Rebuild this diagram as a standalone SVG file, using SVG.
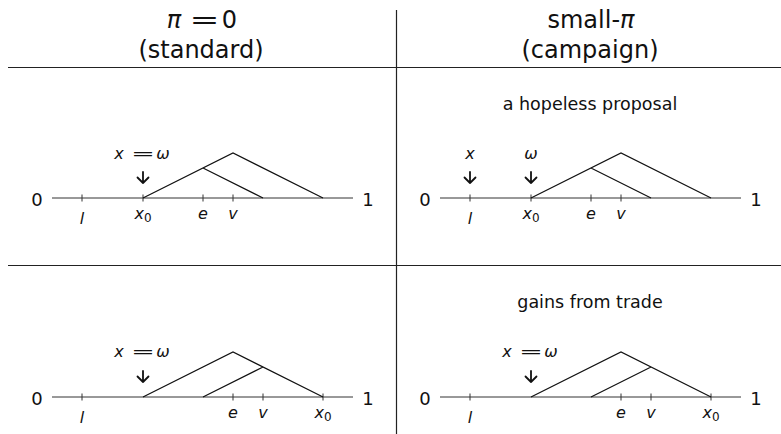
<svg xmlns="http://www.w3.org/2000/svg" width="781" height="434" viewBox="0 0 781 434">
<defs>
<style>
text{font-family:"DejaVu Sans","Liberation Sans",sans-serif;fill:#111}
.hdr{font-size:24px;text-anchor:middle}
.cap{font-size:17.5px;text-anchor:middle}
.end{font-size:18px;text-anchor:middle}
.m{font-size:16px;font-style:italic;text-anchor:middle}
.eq{font-style:normal;text-anchor:start}
.sub{font-size:12px;font-style:normal}
.rule{stroke:#222;stroke-width:1.2;fill:none}
.axis{stroke:#333;stroke-width:1;fill:none}
.tick{stroke:#333;stroke-width:1}
.tri{stroke:#111;stroke-width:1.2;fill:none;stroke-linejoin:miter}
.arr{stroke:#111;stroke-width:1.8;fill:none;stroke-linecap:round;stroke-linejoin:round}
</style>
<g id="axisTpl">
<path class="axis" d="M52,0H353"/>
<text class="end" x="37" y="8">0</text>
<text class="end" x="368" y="8">1</text>
<path class="tick" d="M82,-3.5V3.5"/>
<text class="m" x="82" y="25.5">l</text>
</g>
<g id="arrTpl"><path class="arr" d="M0,-26V-15M-5.5,-20.5L0,-15L5.5,-20.5"/></g>
<g id="eqTpl">
<text class="m" x="119" y="0">x</text>
<text class="m eq" x="131" y="0" textLength="24" lengthAdjust="spacingAndGlyphs">=</text>
<text class="m" x="163" y="0">ω</text>
</g>
</defs>
<rect width="781" height="434" fill="#fff"/>

<g id="header">
<text class="hdr" x="174" y="28" font-style="italic">π</text>
<text class="hdr eq" x="189.5" y="28" textLength="30" lengthAdjust="spacingAndGlyphs">=</text>
<text class="hdr" x="229.5" y="28">0</text>
<text class="hdr" x="201" y="58">(standard)</text>
<text class="hdr" x="591" y="28">small-<tspan font-style="italic">π</tspan></text>
<text class="hdr" x="590" y="58">(campaign)</text>
</g>

<g id="grid">
<path class="rule" d="M8,67.5H781M8,265.5H781M396.5,10V434"/>
</g>

<g id="panel-standard-hopeless">
<g transform="translate(0,198)">
<use href="#axisTpl"/>
<path class="tick" d="M143,-3.5V3.5M203,-3.5V3.5M233,-3.5V3.5"/>
<text class="m" x="143" y="21">x<tspan class="sub" dy="3">0</tspan></text>
<text class="m" x="203" y="21">e</text>
<text class="m" x="233" y="21">v</text>
<g transform="translate(143,0)"><use href="#arrTpl"/></g>
<g transform="translate(0,-39)"><use href="#eqTpl"/></g>
</g>
</g>

<g id="panel-campaign-hopeless">
<text class="cap" x="590" y="110">a hopeless proposal</text>
<g transform="translate(388,198)">
<use href="#axisTpl"/>
<path class="tick" d="M143,-3.5V3.5M203,-3.5V3.5M233,-3.5V3.5"/>
<text class="m" x="143" y="21">x<tspan class="sub" dy="3">0</tspan></text>
<text class="m" x="203" y="21">e</text>
<text class="m" x="233" y="21">v</text>
<g transform="translate(82,0)"><use href="#arrTpl"/></g>
<g transform="translate(143,0)"><use href="#arrTpl"/></g>
<text class="m" x="82" y="-39">x</text>
<text class="m" x="143" y="-39">ω</text>
</g>
</g>

<g id="panel-standard-gains">
<g transform="translate(0,397)">
<use href="#axisTpl"/>
<path class="tick" d="M233,-3.5V3.5M263,-3.5V3.5M323,-3.5V3.5"/>
<text class="m" x="233" y="21">e</text>
<text class="m" x="263" y="21">v</text>
<text class="m" x="323" y="21">x<tspan class="sub" dy="3">0</tspan></text>
<g transform="translate(143,0)"><use href="#arrTpl"/></g>
<g transform="translate(0,-40)"><use href="#eqTpl"/></g>
</g>
</g>

<g id="panel-campaign-gains">
<text class="cap" x="590" y="308">gains from trade</text>
<g transform="translate(388,397)">
<use href="#axisTpl"/>
<path class="tick" d="M233,-3.5V3.5M263,-3.5V3.5M323,-3.5V3.5"/>
<text class="m" x="233" y="21">e</text>
<text class="m" x="263" y="21">v</text>
<text class="m" x="323" y="21">x<tspan class="sub" dy="3">0</tspan></text>
<g transform="translate(143,0)"><use href="#arrTpl"/></g>
<g transform="translate(0,-40)"><use href="#eqTpl"/></g>
</g>
</g>

<g id="connectors">
<path class="tri" d="M143,198L233,153L323,198M203,168L263,198"/>
<path class="tri" d="M531,198L621,153L711,198M591,168L651,198"/>
<path class="tri" d="M143,397L233,352L323,397M203,397L263,367"/>
<path class="tri" d="M531,397L621,352L711,397M591,397L651,367"/>
</g>
</svg>
